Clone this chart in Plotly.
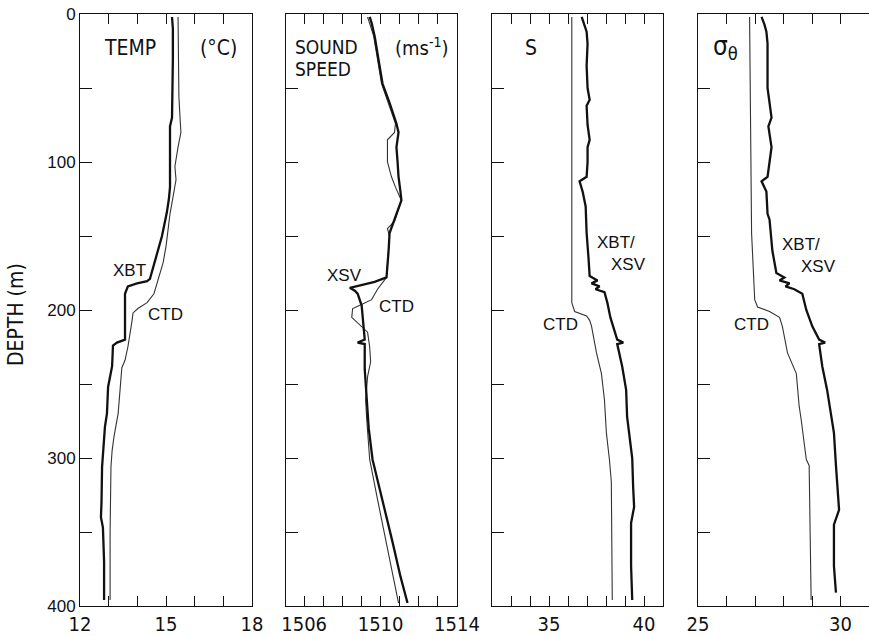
import plotly.graph_objects as go

W, H = 869, 636

# ---------------- data (depth in m) ----------------
# Panel 1: temperature (deg C)
temp_xbt_depth = [2, 10, 30, 50, 70, 76, 90, 100, 110, 117, 125, 134, 150, 162, 171, 179, 180.5, 182, 184, 189,
                  220, 222, 224, 238, 252, 270, 279, 295, 306, 330, 340, 347, 370, 396]
temp_xbt = [15.21, 15.24, 15.24, 15.22, 15.21, 15.14, 15.14, 15.16, 15.14, 15.14, 15.10, 15.03, 14.86, 14.69,
            14.55, 14.44, 14.34, 13.99, 13.67, 13.57, 13.57, 13.29, 13.15, 13.12, 12.98, 12.94, 12.87, 12.80,
            12.77, 12.75, 12.73, 12.80, 12.84, 12.84]
temp_ctd_depth = [2, 30, 56, 70, 80, 90, 103, 112, 124, 135, 146, 157, 168, 180, 189, 195, 199, 202, 208, 225,
                  234, 239, 252, 270, 285, 295, 306, 350, 396]
temp_ctd = [15.42, 15.44, 15.45, 15.49, 15.52, 15.42, 15.31, 15.35, 15.24, 15.14, 15.07, 15.00, 14.90, 14.72,
            14.58, 14.34, 14.02, 13.85, 13.81, 13.67, 13.57, 13.46, 13.40, 13.33, 13.19, 13.12, 13.08, 13.05, 13.05]

# Panel 2: sound speed (m/s)
ss_xsv_depth = [2, 6, 15, 30, 47, 60, 74, 80, 90, 100, 110, 120, 126, 137, 148, 160, 170, 178, 181, 184, 185,
                187, 189, 197, 210, 220, 222, 223, 240, 261, 280, 301, 328, 357, 380, 398]
ss_xsv = [1509.43, 1509.53, 1509.69, 1509.90, 1510.10, 1510.47, 1510.83, 1510.94, 1510.83, 1510.89, 1510.94,
          1511.04, 1511.09, 1510.78, 1510.47, 1510.42, 1510.36, 1510.31, 1509.69, 1508.80, 1508.39, 1508.65,
          1508.80, 1509.01, 1509.11, 1509.17, 1508.80, 1509.17, 1509.17, 1509.27, 1509.38, 1509.58, 1510.10,
          1510.63, 1511.04, 1511.41]
ss_ctd_depth = [2, 15, 47, 74, 80, 85, 100, 110, 117, 126, 140, 145, 150, 170, 178, 186, 193, 196, 199, 205,
                210, 215, 225, 235, 245, 261, 273, 301, 328, 351, 375, 398]
ss_ctd = [1509.32, 1509.64, 1510.05, 1510.78, 1510.73, 1510.36, 1510.36, 1510.57, 1510.78, 1511.09, 1510.73,
          1510.36, 1510.47, 1510.36, 1510.31, 1509.84, 1509.53, 1509.06, 1508.54, 1508.49, 1508.91, 1509.32,
          1509.43, 1509.48, 1509.32, 1509.22, 1509.27, 1509.43, 1509.84, 1510.21, 1510.57, 1510.94]

# Panel 3: salinity
sal_xbt_depth = [2, 6, 12, 20, 35, 50, 58, 62, 75, 85, 90, 100, 110, 113, 120, 130, 148, 165, 177, 180, 182,
                 184, 186, 188, 195, 205, 215, 220, 222, 223, 238, 254, 272, 283, 300, 320, 333, 344, 373, 396]
sal_xbt = [36.72, 36.82, 36.98, 37.03, 36.98, 37.03, 37.14, 36.98, 37.03, 37.14, 37.03, 37.03, 36.98, 36.61,
           36.77, 36.93, 36.98, 37.08, 37.14, 37.55, 37.24, 37.66, 37.45, 37.92, 38.07, 38.23, 38.49, 38.59,
           38.91, 38.59, 38.85, 39.06, 39.11, 39.22, 39.38, 39.43, 39.48, 39.32, 39.32, 39.38]
sal_ctd_depth = [2, 100, 195, 201, 204, 207, 211, 229, 243, 261, 283, 301, 316, 396]
sal_ctd = [36.20, 36.20, 36.20, 36.35, 36.98, 37.14, 37.24, 37.50, 37.76, 37.92, 38.02, 38.18, 38.28, 38.33]

# Panel 4: sigma-theta
sig_xbt_depth = [2, 7, 12, 20, 50, 60, 70, 76, 90, 100, 110, 113, 120, 135, 139, 160, 175, 178, 180, 182, 184,
                 186, 189, 200, 211, 220, 222, 223, 238, 254, 272, 283, 305, 335, 345, 373, 391]
sig_xbt = [27.23, 27.33, 27.40, 27.44, 27.44, 27.51, 27.58, 27.47, 27.58, 27.51, 27.44, 27.23, 27.40, 27.44,
           27.51, 27.61, 27.75, 28.03, 27.86, 28.21, 28.07, 28.38, 28.66, 28.80, 29.01, 29.25, 29.46, 29.25,
           29.36, 29.53, 29.67, 29.77, 29.84, 29.95, 29.77, 29.77, 29.84]
sig_ctd_depth = [2, 100, 148, 193, 198, 201, 205, 211, 229, 243, 265, 274, 301, 305, 396]
sig_ctd = [26.81, 26.85, 26.88, 26.99, 27.09, 27.51, 27.86, 27.96, 28.14, 28.45, 28.55, 28.62, 28.80, 28.90, 28.97]

# axis ranges / ticks
depth_major = [0, 100, 200, 300, 400]
depth_minor = [50, 150, 250, 350]
x_ranges = [[12, 18], [1505.05, 1514], [32, 41], [25, 31]]
x_major = [[12, 15, 18], [1506, 1510, 1514], [35, 40], [25, 30]]
x_minor = [[13, 14, 16, 17],
           [1507, 1508, 1509, 1511, 1512, 1513],
           [33, 34, 36, 37, 38, 39],
           [26, 27, 28, 29]]

# ---------------- figure ----------------
COND = "DejaVu Sans Condensed, Liberation Sans Narrow, Liberation Sans, Arial, sans-serif"
SANS = "Liberation Sans, Arial, sans-serif"
INK = "#111111"

fig = go.Figure()

panels = [
    (temp_xbt_depth, temp_xbt, temp_ctd_depth, temp_ctd),
    (ss_xsv_depth, ss_xsv, ss_ctd_depth, ss_ctd),
    (sal_xbt_depth, sal_xbt, sal_ctd_depth, sal_ctd),
    (sig_xbt_depth, sig_xbt, sig_ctd_depth, sig_ctd),
]
for i, (d1, v1, d2, v2) in enumerate(panels):
    suf = "" if i == 0 else str(i + 1)
    fig.add_trace(go.Scatter(x=v2, y=d2, mode="lines", line=dict(color="#333333", width=1.1),
                             xaxis="x" + suf, yaxis="y" + suf, showlegend=False, hoverinfo="skip"))
    fig.add_trace(go.Scatter(x=v1, y=d1, mode="lines", line=dict(color=INK, width=2.3),
                             xaxis="x" + suf, yaxis="y" + suf, showlegend=False, hoverinfo="skip"))

left_px = [80, 286, 492, 698]
right_px = [252, 457, 663, 870]
y_dom = [1 - 606 / H, 1 - 14 / H]

layout = dict(width=W, height=H, margin=dict(l=0, r=0, t=0, b=0, autoexpand=False),
              paper_bgcolor="white", plot_bgcolor="white", showlegend=False)
for i in range(4):
    suf = "" if i == 0 else str(i + 1)
    layout["xaxis" + suf] = dict(
        domain=[left_px[i] / W, min(right_px[i] / W, 1.0)], range=x_ranges[i],
        tickmode="array", tickvals=x_major[i],
        ticks="inside", ticklen=10, tickwidth=1, tickcolor=INK,
        minor=dict(tickmode="array", tickvals=x_minor[i], ticks="inside", ticklen=10,
                   tickwidth=1, tickcolor=INK, showgrid=False),
        showline=True, linecolor=INK, linewidth=1, mirror="ticks",
        showgrid=False, zeroline=False, anchor="y" + suf, automargin=False,
        tickfont=dict(family=COND, size=20, color=INK),
    )
    layout["yaxis" + suf] = dict(
        domain=y_dom, range=[400, 0], tickmode="array", tickvals=depth_major,
        ticks="inside", ticklen=12, tickwidth=1, tickcolor=INK,
        minor=dict(tickmode="array", tickvals=depth_minor, ticks="inside", ticklen=12,
                   tickwidth=1, tickcolor=INK, showgrid=False),
        showline=True, linecolor=INK, linewidth=1, mirror=(i < 3),
        showgrid=False, zeroline=False, anchor="x" + suf, automargin=False,
        showticklabels=(i == 0),
        tickfont=dict(family=SANS, size=17, color=INK),
    )
fig.update_layout(**layout)


def px_note(text, x, y, size=17, family=SANS, xanchor="center", angle=0):
    fig.add_annotation(text=text, x=x / W, y=1 - y / H, xref="paper", yref="paper",
                       xanchor=xanchor, yanchor="middle", showarrow=False, textangle=angle,
                       borderpad=0,
                       font=dict(family=family, size=size, color=INK))


# panel headings
px_note("TEMP", 130, 48, size=21, family=COND)
px_note("(°C)", 218, 48, size=21, family=COND)
px_note("SOUND", 294, 47, size=19, family=COND, xanchor="left")
px_note("SPEED", 294, 69, size=19, family=COND, xanchor="left")
px_note("(ms<sup>-1</sup>)", 422, 47, size=20, family=COND)
px_note("S", 531, 48, size=21, family=COND)
px_note("σ<sub>θ</sub>", 725, 47, size=26, family=COND)

# curve labels
px_note("XBT", 129, 270)
px_note("CTD", 165, 315)
px_note("XSV", 344, 275)
px_note("CTD", 396, 306)
px_note("XBT/", 616, 243)
px_note("XSV", 628, 264)
px_note("CTD", 560, 324)
px_note("XBT/", 801, 244)
px_note("XSV", 818, 266)
px_note("CTD", 751, 324)

# y-axis title
px_note("DEPTH (m)", 16, 315, size=21, family=COND, angle=-90)

fig.write_html("out.html")
